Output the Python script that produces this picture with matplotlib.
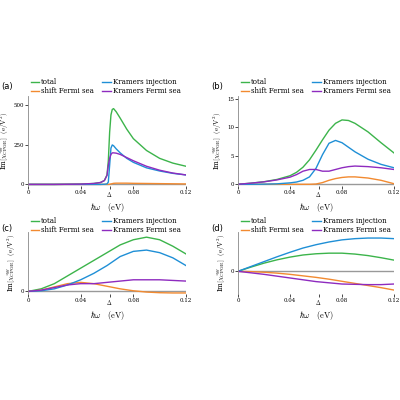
import matplotlib.pyplot as plt
import numpy as np

G, B, O, P = '#3cb44b', '#1f8fd6', '#f28a30', '#8e2bbf'
# panel a
xa = [0,0.02,0.04,0.05,0.055,0.058,0.06,0.061,0.062,0.063,0.064,0.065,0.067,0.07,0.075,0.08,0.09,0.10,0.11,0.12]
a_tot = [0,0,2,6,12,25,60,150,330,440,475,480,460,420,350,290,215,165,135,115]
a_kin = [0,0,0,0,0,1,3,15,120,230,250,245,225,200,165,140,105,85,70,60]
a_sh = [0,0,0,0,0,0,0,0,1,3,5,7,8,8,8,7,6,5,4,3]
a_kfs = [0,0,2,6,12,24,57,120,165,190,200,200,198,190,170,150,115,90,72,60]
# panel b
xb = [0,0.01,0.02,0.03,0.04,0.045,0.05,0.055,0.06,0.065,0.07,0.075,0.08,0.085,0.09,0.1,0.11,0.12]
b_tot = [0,0.2,0.45,0.85,1.5,2.1,3.0,4.3,6.0,7.8,9.5,10.7,11.3,11.2,10.7,9.2,7.3,5.5]
b_kin = [0,0,0.02,0.08,0.25,0.4,0.7,1.3,2.8,5.2,7.2,7.7,7.3,6.5,5.7,4.4,3.5,2.9]
b_sh = [0,0,0,0,0,0,0,0,0.05,0.3,0.7,1.0,1.2,1.3,1.3,1.1,0.7,0.1]
b_kfs = [0,0.2,0.43,0.77,1.25,1.7,2.3,2.6,2.6,2.3,2.3,2.6,2.9,3.1,3.2,3.1,2.9,2.6]
# panel c
xc = [0,0.01,0.02,0.03,0.04,0.05,0.06,0.07,0.08,0.09,0.1,0.11,0.12]
c_tot = [0,0.2,0.6,1.2,1.8,2.4,3.0,3.6,4.0,4.2,4.0,3.5,2.9]
c_kin = [0,0.05,0.2,0.5,0.9,1.4,2.0,2.7,3.1,3.2,3.0,2.6,2.0]
c_sh = [0,0.1,0.35,0.6,0.7,0.6,0.4,0.2,0.05,-0.05,-0.1,-0.12,-0.12]
c_kfs = [0,0.1,0.3,0.5,0.6,0.6,0.7,0.8,0.9,0.9,0.9,0.85,0.8]
# panel d
xd = [0,0.01,0.02,0.03,0.04,0.05,0.06,0.07,0.08,0.09,0.1,0.11,0.12]
d_tot = [0,0.14,0.27,0.38,0.47,0.54,0.58,0.6,0.6,0.57,0.52,0.45,0.37]
d_kin = [0,0.16,0.32,0.48,0.63,0.77,0.88,0.97,1.04,1.08,1.1,1.1,1.08]
d_sh = [0,-0.01,-0.03,-0.06,-0.1,-0.15,-0.2,-0.26,-0.33,-0.4,-0.47,-0.54,-0.62]
d_kfs = [0,-0.05,-0.1,-0.16,-0.22,-0.28,-0.34,-0.38,-0.42,-0.43,-0.44,-0.44,-0.42]

plt.rcParams['font.family'] = 'DejaVu Serif'
plt.rcParams['mathtext.fontset'] = 'cm'
fig = plt.figure(figsize=(4, 4), dpi=100)
ylab = r'Im$[\chi^{zyy}_{\rm CPGE}]$  $({\rm e}/{\rm V}^2)$'
panels = [
    ('(a)', [0.07, 0.535, 0.395, 0.225], xa, a_tot, a_kin, a_sh, a_kfs, (-10, 560), [0, 250, 500], ['0', '250', '500'], False),
    ('(b)', [0.595, 0.535, 0.39, 0.225], xb, b_tot, b_kin, b_sh, b_kfs, (-0.3, 15.5), [0, 5, 10, 15], ['0', '5', '10', '15'], False),
    ('(c)', [0.07, 0.265, 0.395, 0.155], xc, c_tot, c_kin, c_sh, c_kfs, (-0.2, 4.6), [0], ['0'], True),
    ('(d)', [0.595, 0.265, 0.39, 0.155], xd, d_tot, d_kin, d_sh, d_kfs, (-0.75, 1.3), [0], ['0'], True),
]
for lab, rect, x, t, k, s, f, yl, yt, ytl, inside in panels:
    ax = fig.add_axes(rect)
    ax.axhline(0, color='#999999', lw=1, zorder=0)
    ax.plot(x, t, color=G, lw=1, label='total')
    ax.plot(x, s, color=O, lw=1, label='shift Fermi sea')
    ax.plot(x, k, color=B, lw=1, label='Kramers injection')
    ax.plot(x, f, color=P, lw=1, label='Kramers Fermi sea')
    ax.set_xlim(0, 0.12)
    ax.set_ylim(*yl)
    ax.set_xticks([0, 0.04, 0.062, 0.08, 0.12])
    ax.set_xticklabels(['0', '0.04', r'$\Delta$', '0.08', '0.12'], fontsize=4)
    ax.set_yticks(yt)
    ax.set_yticklabels(ytl, fontsize=4)
    ax.tick_params(length=2, width=0.5, pad=1)
    for sp in ['top', 'right']:
        ax.spines[sp].set_visible(False)
    ax.spines['bottom'].set_visible(False)
    ax.spines['left'].set_color('#888888')
    ax.spines['left'].set_linewidth(0.6)
    ax.set_xlabel(r'$\hbar\omega$   $({\rm eV})$', fontsize=6, labelpad=1)
    ax.set_ylabel(ylab, fontsize=5, labelpad=2)
    if inside:
        ax.legend(ncol=2, fontsize=5, frameon=False, loc='lower left', bbox_to_anchor=(0.0, 0.92),
                  handlelength=1.2, columnspacing=1.2, borderaxespad=0, handletextpad=0.3, labelspacing=0.1)
    else:
        ax.legend(ncol=2, fontsize=5, frameon=False, loc='lower left', bbox_to_anchor=(0.0, 0.98),
                  handlelength=1.2, columnspacing=1.2, borderaxespad=0, handletextpad=0.3, labelspacing=0.1)
    ax.text(-0.17, 1.08 if not inside else 1.02, lab, transform=ax.transAxes, fontsize=6, family='DejaVu Sans')
fig.savefig('out.png', dpi=100)
